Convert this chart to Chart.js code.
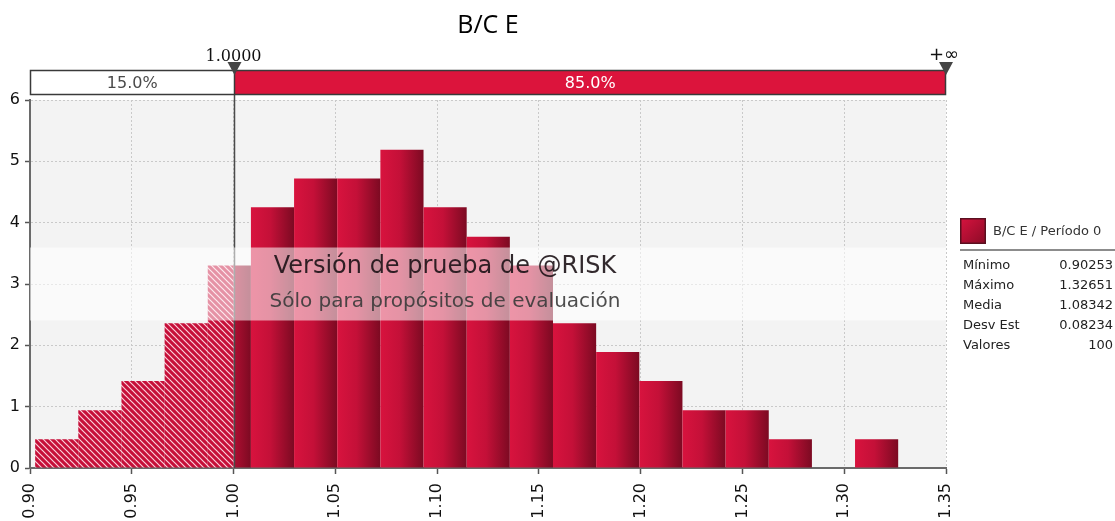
<!DOCTYPE html>
<html>
<head>
<meta charset="utf-8">
<script src="https://cdn.jsdelivr.net/npm/chart.js@4.4.0/dist/chart.umd.min.js"></script>
<style>
html,body{margin:0;padding:0;background:#fff;}
#wrap{width:1115px;height:521px;position:relative;}
canvas{display:block;}
</style>
</head>
<body>
<div id="wrap"><canvas id="c" width="1115" height="521"></canvas></div>
<script>
// ---------------- data ----------------
const chartTitle = 'B/C E';
const binEdges = [0.90253, 0.92373, 0.94493, 0.96613, 0.98733, 1.00853, 1.02973, 1.05093, 1.07213, 1.09333,
                  1.11453, 1.13573, 1.15693, 1.17813, 1.19933, 1.22053, 1.24173, 1.26293, 1.28413, 1.30531, 1.32651];
const density  = [0.47, 0.94, 1.42, 2.36, 3.30, 4.25, 4.72, 4.72, 5.19, 4.25,
                  3.77, 3.30, 2.36, 1.89, 1.42, 0.94, 0.94, 0.47, 0.00, 0.47];
const threshold = 1.00;
const thresholdLabel = '1.0000';
const upperLabel = '+\u221E';
const pctBelow = '15.0%';
const pctAbove = '85.0%';
const xTickValues = [0.90, 0.95, 1.00, 1.05, 1.10, 1.15, 1.20, 1.25, 1.30, 1.35];
const yTickValues = [0, 1, 2, 3, 4, 5, 6];
const seriesName = 'B/C E / Período 0';
const statNames  = ['Mínimo', 'Máximo', 'Media', 'Desv Est', 'Valores'];
const statValues = ['0.90253', '1.32651', '1.08342', '0.08234', '100'];
const watermark1 = 'Versión de prueba de @RISK';
const watermark2 = 'Sólo para propósitos de evaluación';

// ------------- split bins at the threshold -------------
const belowData = [], aboveData = [];
for (let i = 0; i < density.length; i++) {
  const a = binEdges[i], b = binEdges[i + 1];
  if (a < threshold) {
    const e = Math.min(b, threshold);
    belowData.push({x: (a + e) / 2, y: density[i], from: a, to: e, bin: i});
  }
  if (b > threshold) {
    const s = Math.max(a, threshold);
    aboveData.push({x: (s + b) / 2, y: density[i], from: s, to: b, bin: i});
  }
}

// ------------- histogram controller (bar widths from bin edges) -------------
class HistogramController extends Chart.BarController {
  _calculateBarIndexPixels(index, ruler, options) {
    const raw = this.getDataset().data[index];
    const s = this._cachedMeta.iScale;
    const p0 = s.getPixelForValue(raw.from);
    const p1 = s.getPixelForValue(raw.to);
    return {base: p0, head: p1, center: (p0 + p1) / 2, size: p1 - p0};
  }
}
HistogramController.id = 'histogram';
Chart.register(HistogramController);

const canvas = document.getElementById('c');
const mainCtx = canvas.getContext('2d');

function makeHatch() {
  const c = document.createElement('canvas');
  c.width = 6; c.height = 6;
  const g = c.getContext('2d');
  g.fillStyle = '#c60f39';
  g.fillRect(0, 0, 6, 6);
  g.strokeStyle = 'rgba(255,225,232,0.92)';
  g.lineWidth = 1.2;
  g.beginPath();
  g.moveTo(-1, -1); g.lineTo(7, 7);
  g.moveTo(-1, 5); g.lineTo(1, 7);
  g.moveTo(5, -1); g.lineTo(7, 1);
  g.stroke();
  return mainCtx.createPattern(c, 'repeat');
}
const hatch = makeHatch();

function barGradient(ctx) {
  const chart = ctx.chart;
  const raw = ctx.raw;
  if (!raw || !chart.chartArea || !chart.scales.x) return '#c20f37';
  const s = chart.scales.x;
  const x0 = s.getPixelForValue(binEdges[raw.bin]);
  const x1 = s.getPixelForValue(binEdges[raw.bin + 1]);
  const g = chart.ctx.createLinearGradient(x0, 0, x1, 0);
  g.addColorStop(0, '#d8133e');
  g.addColorStop(0.45, '#c41038');
  g.addColorStop(1, '#7c0a22');
  return g;
}

// ------------- decoration plugin -------------
const decor = {
  id: 'decor',
  beforeDraw(chart) {
    const {ctx, chartArea: a} = chart;
    ctx.save();
    ctx.fillStyle = '#f3f3f3';
    ctx.fillRect(a.left, a.top, a.right - a.left, a.bottom - a.top);
    ctx.restore();
  },
  afterDatasetsDraw(chart) {
    const {ctx, chartArea: a} = chart;
    const xs = chart.scales.x;
    const tx = Math.round(xs.getPixelForValue(threshold)) + 0.5;
    ctx.save();
    // threshold line
    ctx.strokeStyle = '#4a4a4a';
    ctx.lineWidth = 1.5;
    ctx.beginPath();
    ctx.moveTo(tx, a.top - 38);
    ctx.lineTo(tx, a.bottom);
    ctx.stroke();
    // watermark band
    const mid = (a.top + a.bottom) / 2;
    ctx.fillStyle = 'rgba(255,255,255,0.55)';
    ctx.fillRect(a.left, mid - 36.5, a.right - a.left, 73);
    const cx = a.left + 415;
    ctx.textAlign = 'center';
    ctx.textBaseline = 'middle';
    ctx.fillStyle = 'rgba(28,18,22,0.9)';
    ctx.font = '24px "DejaVu Sans"';
    ctx.fillText(watermark1, cx, mid - 17);
    ctx.fillStyle = 'rgba(58,58,58,0.9)';
    ctx.font = '20px "DejaVu Sans"';
    ctx.fillText(watermark2, cx, mid + 18);
    ctx.restore();
  },
  afterDraw(chart) {
    const {ctx, chartArea: a} = chart;
    const xs = chart.scales.x;
    const tx = Math.round(xs.getPixelForValue(threshold)) + 0.5;
    const top = a.top - 30, h = 25;
    ctx.save();
    // percentage bar
    ctx.fillStyle = '#ffffff';
    ctx.fillRect(a.left, top, tx - a.left, h);
    ctx.fillStyle = '#dc143c';
    ctx.fillRect(tx, top, a.right - tx, h);
    ctx.strokeStyle = '#3a3a3a';
    ctx.lineWidth = 1.5;
    ctx.strokeRect(a.left + 0.5, top + 0.5, a.right - a.left - 1, h - 1);
    ctx.beginPath(); ctx.moveTo(tx, top); ctx.lineTo(tx, top + h); ctx.stroke();
    ctx.font = '16px "DejaVu Sans"';
    ctx.textAlign = 'center';
    ctx.textBaseline = 'middle';
    ctx.fillStyle = '#4a4a4a';
    ctx.fillText(pctBelow, (a.left + tx) / 2, top + h / 2 + 1);
    ctx.fillStyle = '#ffffff';
    ctx.fillText(pctAbove, (tx + a.right) / 2, top + h / 2 + 1);
    // markers
    const rx = a.right;
    [tx, rx].forEach(px => {
      ctx.fillStyle = '#454545';
      ctx.beginPath();
      ctx.moveTo(px - 7, top - 8);
      ctx.lineTo(px + 7, top - 8);
      ctx.lineTo(px, top + 5);
      ctx.closePath();
      ctx.fill();
    });
    ctx.fillStyle = '#111';
    ctx.textBaseline = 'alphabetic';
    ctx.font = '16px "DejaVu Serif"';
    ctx.fillText(thresholdLabel, tx - 1, top - 9);
    ctx.font = '18px "DejaVu Sans"';
    ctx.fillText(upperLabel, rx - 2, top - 10);
    // legend
    const lx = a.right + 14;
    const sy = a.top + 118;
    const sg = ctx.createLinearGradient(lx, sy, lx + 26, sy + 26);
    sg.addColorStop(0, '#d8133f');
    sg.addColorStop(1, '#8a0b26');
    ctx.fillStyle = sg;
    ctx.fillRect(lx, sy, 26, 26);
    ctx.strokeStyle = '#5a1020';
    ctx.lineWidth = 1.5;
    ctx.strokeRect(lx + 0.75, sy + 0.75, 24.5, 24.5);
    ctx.fillStyle = '#333';
    ctx.font = '13px "DejaVu Sans"';
    ctx.textAlign = 'left';
    ctx.textBaseline = 'middle';
    ctx.fillText(seriesName, lx + 33, sy + 14);
    ctx.strokeStyle = '#8c8c8c';
    ctx.lineWidth = 2;
    ctx.beginPath();
    ctx.moveTo(lx, sy + 32); ctx.lineTo(chart.width, sy + 32);
    ctx.stroke();
    ctx.fillStyle = '#222';
    for (let i = 0; i < statNames.length; i++) {
      const ry = sy + 48 + i * 20;
      ctx.textAlign = 'left';
      ctx.fillText(statNames[i], lx + 3, ry);
      ctx.textAlign = 'right';
      ctx.fillText(statValues[i], chart.width - 2, ry);
    }
    ctx.restore();
  }
};

const tickFont = {family: '"DejaVu Sans"', size: 16};

new Chart(canvas, {
  type: 'histogram',
  data: {
    datasets: [
      {label: 'below', data: belowData, backgroundColor: hatch, borderWidth: 0},
      {label: 'above', data: aboveData, backgroundColor: barGradient, borderWidth: 0}
    ]
  },
  options: {
    responsive: false,
    animation: false,
    devicePixelRatio: 1,
    layout: {padding: {left: 0, right: 169, top: 0, bottom: 0}},
    plugins: {
      legend: {display: false},
      tooltip: {enabled: false},
      title: {
        display: true,
        text: chartTitle,
        fullSize: false,
        color: '#000',
        font: {family: '"Open Sans"', size: 25, weight: 'normal', lineHeight: 1.2},
        padding: {top: 11, bottom: 59}
      }
    },
    scales: {
      x: {
        type: 'linear',
        offset: false,
        min: xTickValues[0],
        max: xTickValues[xTickValues.length - 1],
        afterBuildTicks: s => { s.ticks = xTickValues.map(v => ({value: v})); },
        afterFit: s => { s.height = 53; },
        ticks: {
          autoSkip: false, minRotation: 90, maxRotation: 90, padding: 9,
          color: '#111', font: tickFont,
          callback: v => Number(v).toFixed(2)
        },
        grid: {
          offset: false, color: '#c9c9c9', lineWidth: 1, tickLength: 6,
          tickColor: '#555', tickWidth: 1.5, tickBorderDash: []
        },
        border: {display: true, color: '#6a6a6a', width: 2, dash: [2, 2]}
      },
      y: {
        type: 'linear',
        min: yTickValues[0],
        max: yTickValues[yTickValues.length - 1],
        afterBuildTicks: s => { s.ticks = yTickValues.map(v => ({value: v})); },
        afterFit: s => { s.width = 30; },
        ticks: {padding: 5, color: '#111', font: tickFont},
        grid: {
          color: '#c9c9c9', lineWidth: 1, tickLength: 5,
          tickColor: '#555', tickWidth: 1.5, tickBorderDash: []
        },
        border: {display: true, color: '#6a6a6a', width: 2, dash: [2, 2]}
      }
    }
  },
  plugins: [decor]
});
</script>
</body>
</html>
